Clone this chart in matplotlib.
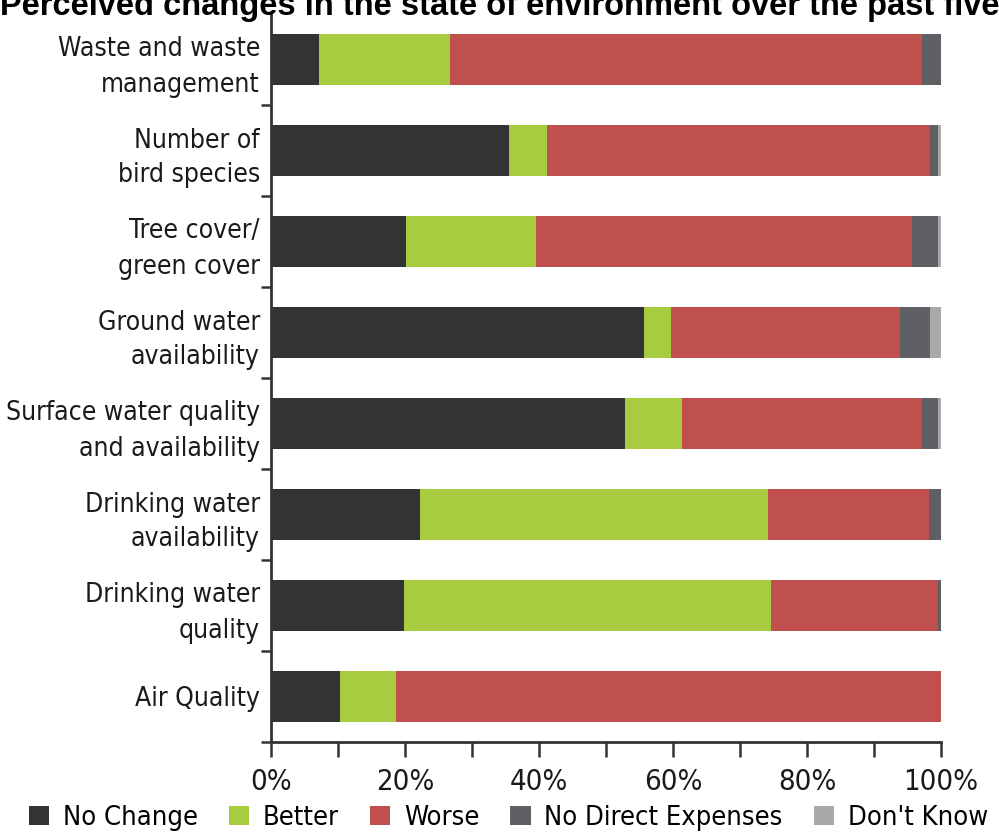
import matplotlib
matplotlib.use("Agg")
import matplotlib.pyplot as plt
from matplotlib import font_manager
from matplotlib.patches import Patch
from matplotlib.ticker import MultipleLocator, FixedLocator
import numpy as np

# the source uses a narrow grotesque; pick any condensed face that is installed
narrow = None
for f in font_manager.fontManager.ttflist:
    if ('Narrow' in f.name or 'Condensed' in f.name or 'condensed' in str(f.stretch)) \
            and f.weight in (400, 'normal', 'regular') and f.style == 'normal':
        narrow = f
        break

if narrow is not None:
    plt.rcParams['font.family'] = [narrow.name, 'DejaVu Sans']
    plt.rcParams['font.stretch'] = narrow.stretch
    base_size = 19
else:
    plt.rcParams['font.family'] = ['Liberation Sans', 'DejaVu Sans']
    base_size = 16

# categories, top to bottom
categories = [
    "Waste and waste\nmanagement",
    "Number of\nbird species",
    "Tree cover/\ngreen cover",
    "Ground water\navailability",
    "Surface water quality\nand availability",
    "Drinking water\navailability",
    "Drinking water\nquality",
    "Air Quality",
]

# shares in percent
no_change = [7.1, 35.5, 20.2, 55.6, 52.8, 22.3, 19.8, 10.3]
better = [19.6, 5.7, 19.4, 4.1, 8.6, 51.9, 54.8, 8.3]
worse = [70.5, 57.2, 56.0, 34.2, 35.8, 24.0, 25.0, 81.4]
no_direct = [2.8, 1.2, 4.0, 4.5, 2.4, 1.8, 0.4, 0.0]
dont_know = [0.0, 0.4, 0.4, 1.6, 0.4, 0.0, 0.0, 0.0]

series_names = ["No Change", "Better", "Worse", "No Direct Expenses", "Don't Know"]
colors = ["#333333", "#a8cc40", "#c0504d", "#5f6063", "#a9a9ab"]

fig = plt.figure(figsize=(9.99, 8.32), dpi=100)
ax = fig.add_axes([271 / 999, 90 / 832, 670 / 999, 728 / 832])

y = np.arange(len(categories))
left = np.zeros(len(categories))
for vals, col in zip([no_change, better, worse, no_direct, dont_know], colors):
    ax.barh(y, vals, left=left, height=0.56, color=col, edgecolor='none')
    left += np.array(vals)

ax.set_xlim(0, 100)
ax.set_ylim(len(categories) - 0.5, -0.5)

# y labels at bar centres, small ticks between the bars
ax.set_yticks(y)
ax.set_yticklabels(categories, fontsize=base_size, color='#1a1a1a', linespacing=1.45)
ax.tick_params(axis='y', which='major', length=0, pad=8)
ax.yaxis.set_minor_locator(FixedLocator(np.arange(0.5, len(categories), 1.0)))
ax.tick_params(axis='y', which='minor', length=7, width=1.8, color='#333333')

# x ticks every 10%, labels every 20%
ax.xaxis.set_major_locator(MultipleLocator(20))
ax.xaxis.set_minor_locator(MultipleLocator(10))
ax.set_xticklabels([f"{int(v)}%" for v in ax.get_xticks()])
ax.tick_params(axis='x', which='both', length=11, width=1.8, color='#333333',
               labelsize=base_size + 2, labelcolor='#1a1a1a', pad=8)

for s in ['top', 'right']:
    ax.spines[s].set_visible(False)
for s in ['left', 'bottom']:
    ax.spines[s].set_linewidth(2)
    ax.spines[s].set_color('#333333')

# title, cut off at the top as in the source image
fig.text(0.0, 1 - 15 / 832, "Perceived changes in the state of environment over the past five",
         fontsize=23.5, fontweight='bold', family='Liberation Sans', stretch='normal',
         va='baseline', ha='left')

handles = [Patch(facecolor=c, edgecolor='none') for c in colors]
fig.legend(handles, series_names, loc='lower left', bbox_to_anchor=(0.018, -0.012),
           ncol=5, frameon=False, fontsize=base_size + 0.5, handlelength=0.75,
           handleheight=0.7, handletextpad=0.5, columnspacing=1.15, borderaxespad=0)

fig.savefig("out.png", dpi=100)
